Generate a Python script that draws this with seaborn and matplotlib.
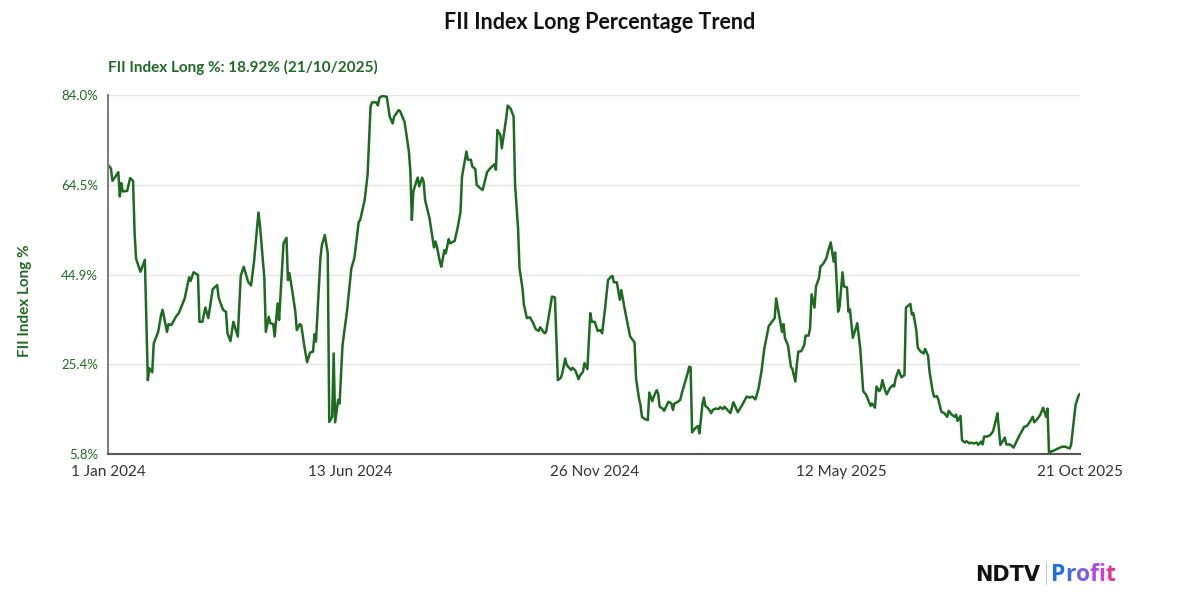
import pandas as pd
import matplotlib
matplotlib.use("Agg")
import matplotlib.pyplot as plt
import seaborn as sns

START = "2024-01-01"

# trading-day offsets from 1 Jan 2024
day_offsets = [
    0, 2, 3, 5, 7, 8, 9, 10, 13, 15,
    17, 18, 19, 22, 25, 27, 28, 30, 31, 34,
    36, 37, 40, 41, 43, 46, 48, 52, 55, 56,
    58, 61, 62, 64, 66, 68, 70, 71, 74, 75,
    78, 80, 81, 83, 85, 88, 90, 92, 95, 97,
    99, 102, 103, 106, 107, 109, 110, 112, 113, 115,
    116, 119, 121, 122, 123, 125, 127, 128, 130, 131,
    133, 135, 137, 139, 140, 141, 144, 145, 147, 149,
    150, 152, 153, 154, 156, 157, 159, 161, 162, 165,
    167, 170, 171, 174, 176, 178, 179, 182, 183, 184,
    186, 189, 190, 191, 193, 194, 197, 198, 201, 202,
    204, 205, 206, 207, 209, 210, 211, 213, 214, 215,
    218, 219, 221, 222, 223, 225, 226, 228, 229, 231,
    232, 235, 237, 239, 240, 243, 244, 246, 247, 249,
    250, 252, 254, 257, 259, 262, 263, 264, 266, 267,
    270, 271, 273, 275, 276, 278, 279, 281, 282, 284,
    286, 288, 290, 292, 293, 296, 297, 299, 301, 303,
    305, 307, 308, 310, 311, 314, 315, 317, 319, 320,
    322, 323, 325, 327, 328, 330, 332, 334, 335, 337,
    339, 341, 342, 343, 345, 347, 348, 350, 352, 354,
    357, 358, 360, 361, 362, 364, 366, 367, 369, 370,
    372, 373, 374, 376, 377, 379, 380, 382, 383, 384,
    386, 388, 389, 391, 393, 394, 395, 396, 398, 400,
    401, 403, 404, 405, 407, 409, 410, 412, 414, 415,
    417, 418, 420, 422, 424, 427, 430, 433, 435, 437,
    439, 441, 443, 445, 448, 449, 452, 453, 455, 457,
    458, 459, 461, 463, 464, 466, 467, 468, 470, 472,
    473, 475, 476, 477, 479, 480, 482, 483, 485, 487,
    488, 490, 492, 493, 495, 496, 498, 499, 501, 502,
    503, 505, 508, 510, 512, 514, 517, 518, 520, 521,
    523, 524, 525, 527, 528, 530, 532, 533, 534, 536,
    538, 540, 541, 544, 545, 546, 548, 549, 551, 553,
    554, 556, 557, 559, 560, 562, 563, 565, 567, 569,
    570, 572, 574, 575, 576, 578, 579, 581, 582, 584,
    585, 587, 589, 590, 592, 593, 594, 596, 598, 600,
    602, 603, 605, 606, 608, 609, 611, 612, 614, 615,
    618, 620, 621, 623, 625, 627, 628, 630, 632, 634,
    636, 637, 638, 639, 641, 644, 647, 649, 652, 653,
    655, 656, 658, 659,
]

long_pct = [
    68.8, 68.0, 65.3, 66.2, 67.2, 61.9, 64.8, 63.0, 63.1, 65.9,
    65.3, 54.2, 48.4, 45.5, 48.1, 21.9, 24.5, 23.6, 29.9, 32.4,
    36.1, 37.2, 32.4, 34.1, 33.9, 35.7, 36.5, 39.7, 44.3, 43.5,
    45.4, 44.8, 34.6, 34.6, 37.7, 35.4, 39.7, 41.7, 42.6, 39.9,
    37.2, 36.8, 32.1, 30.4, 34.6, 31.4, 44.6, 46.6, 43.3, 42.5,
    47.7, 58.4, 55.7, 44.1, 32.4, 35.7, 34.3, 34.1, 31.4, 38.6,
    35.0, 51.7, 52.9, 43.7, 45.2, 41.2, 36.8, 32.8, 34.1, 33.9,
    29.5, 25.8, 27.9, 28.1, 31.9, 30.3, 48.4, 51.3, 53.5, 49.5,
    12.8, 13.9, 27.7, 12.7, 17.6, 16.8, 29.5, 34.3, 36.8, 46.3,
    48.4, 56.4, 56.8, 61.1, 66.6, 81.5, 82.4, 82.4, 81.7, 83.4,
    83.8, 83.6, 81.5, 79.3, 77.8, 79.3, 80.7, 80.5, 78.2, 76.1,
    71.7, 67.3, 56.8, 63.0, 65.1, 66.0, 64.1, 66.0, 65.1, 61.1,
    57.1, 55.0, 50.8, 52.1, 51.0, 47.7, 46.6, 50.2, 49.5, 52.6,
    51.7, 52.2, 55.0, 58.6, 66.2, 71.7, 69.9, 69.9, 68.4, 67.9,
    64.4, 63.8, 63.3, 67.2, 68.0, 68.9, 67.7, 76.4, 75.3, 72.4,
    79.0, 81.7, 81.0, 79.3, 64.4, 55.0, 46.3, 41.9, 38.3, 35.4,
    35.6, 34.5, 33.0, 32.6, 33.4, 32.1, 32.4, 36.1, 40.1, 39.9,
    21.9, 22.4, 23.4, 26.6, 25.2, 24.1, 24.6, 23.9, 22.1, 22.9,
    23.7, 25.6, 24.3, 36.5, 34.6, 34.6, 32.6, 32.8, 32.1, 37.5,
    43.7, 44.4, 44.6, 43.2, 43.2, 39.4, 41.5, 37.9, 34.6, 31.4,
    30.1, 22.3, 17.9, 16.5, 13.9, 13.4, 13.2, 19.2, 17.3, 18.3,
    19.7, 19.0, 16.1, 15.7, 15.2, 16.5, 17.2, 16.8, 15.4, 16.8,
    17.1, 17.6, 19.0, 21.2, 23.4, 24.8, 24.7, 10.5, 11.4, 11.9,
    10.3, 16.6, 18.1, 16.3, 15.7, 14.7, 15.4, 15.7, 15.6, 16.0,
    15.6, 16.1, 15.4, 14.7, 17.1, 14.9, 16.5, 18.3, 18.1, 18.3,
    17.7, 20.0, 23.7, 28.8, 33.7, 34.1, 35.4, 39.7, 36.1, 32.4,
    34.1, 31.0, 29.5, 24.8, 24.3, 21.6, 25.2, 28.1, 28.2, 29.5,
    31.6, 31.6, 33.2, 40.6, 37.7, 42.3, 44.1, 46.6, 47.3, 48.4,
    49.7, 51.9, 47.7, 49.7, 36.8, 37.9, 45.4, 42.3, 42.1, 36.8,
    37.3, 31.1, 34.3, 28.8, 19.5, 18.7, 16.3, 16.8, 15.9, 20.5,
    19.5, 20.1, 21.9, 19.5, 18.8, 20.1, 20.8, 20.5, 22.3, 24.1,
    22.5, 23.0, 37.7, 38.5, 36.2, 36.5, 32.8, 29.0, 28.1, 27.7,
    28.7, 27.2, 23.7, 19.7, 18.3, 18.4, 17.6, 15.0, 14.7, 13.9,
    15.2, 14.4, 13.9, 14.4, 13.0, 14.1, 8.8, 8.3, 8.6, 8.1,
    8.3, 8.1, 8.3, 7.8, 8.5, 7.9, 9.6, 9.6, 9.9, 10.7,
    13.2, 14.7, 7.8, 8.3, 9.4, 7.9, 7.9, 7.8, 7.2, 7.9,
    9.9, 11.0, 11.7, 11.9, 12.8, 13.9, 12.7, 13.4, 14.3, 15.9,
    13.9, 15.7, 5.8, 6.3, 6.5, 7.0, 7.4, 7.4, 7.0, 7.9,
    13.6, 16.5, 18.5, 18.92,
]

y_ticks = [5.8, 25.4, 44.9, 64.5, 84.0]
x_tick_dates = ["2024-01-01", "2024-06-13", "2024-11-26", "2025-05-12", "2025-10-21"]
x_tick_labels = ["1 Jan 2024", "13 Jun 2024", "26 Nov 2024", "12 May 2025", "21 Oct 2025"]

assert len(day_offsets) == len(long_pct)

LINE = "#1d6b21"
GREEN_TXT = "#1f6a24"

df = pd.DataFrame({
    "date": pd.to_datetime(START) + pd.to_timedelta(day_offsets, unit="D"),
    "long": long_pct,
})

sns.set_style("white")
plt.rcParams["font.family"] = ["Lato", "DejaVu Sans"]

fig = plt.figure(figsize=(12, 6.04), dpi=100)
ax = fig.add_axes([0.09, 0.2483, 0.81, 0.5944])

sns.lineplot(data=df, x="date", y="long", ax=ax, color=LINE, linewidth=1.8)

ax.set_xlim(df["date"].min(), df["date"].max())
ax.set_ylim(5.8, 84.0)
ax.set_yticks(y_ticks)
ax.set_yticklabels([f"{t:.1f}%" for t in y_ticks])
ax.set_xticks(pd.to_datetime(x_tick_dates))
ax.set_xticklabels(x_tick_labels)
ax.set_xlabel("")
ax.set_ylabel("")
# y label sits a bit below the axis centre in the original
fig.text(25 / 1200, 0.503, "FII Index Long %", rotation=90, ha="center", va="center",
         color=GREEN_TXT, fontsize=11, fontweight="bold")

ax.grid(axis="y", color="#e5e5e5", linewidth=1)
ax.set_axisbelow(True)
for s in ["top", "right"]:
    ax.spines[s].set_visible(False)
ax.spines["left"].set_color("#808080")
ax.spines["left"].set_linewidth(1.5)
ax.spines["bottom"].set_color("#555555")
ax.spines["bottom"].set_linewidth(1.5)

ax.tick_params(axis="y", length=4, width=1, color="#808080", labelcolor=GREEN_TXT, labelsize=9.5, pad=3)
ax.tick_params(axis="x", length=0, labelcolor="#333333", labelsize=11, pad=8)

fig.text(0.5, 0.963, "FII Index Long Percentage Trend", ha="center", va="center",
         fontsize=15.5, fontweight="bold", color="#111111")
fig.text(0.09, 0.889, "FII Index Long %: 18.92% (21/10/2025)", ha="left", va="center",
         fontsize=11, fontweight="bold", color=GREEN_TXT)

# NDTV | Profit logo
fig.text(0.8125, 0.048, "NDTV", ha="left", va="center", fontsize=15, fontweight="heavy",
         color="#111111", family=["DejaVu Sans"])
fig.text(1043 / 1200, 0.05, "|", ha="left", va="center", fontsize=17, color="#444444",
         fontweight="light")
renderer = fig.canvas.get_renderer()
profit_colors = ["#1f6fe0", "#3f6be6", "#7a5ee6", "#a84fe0", "#cf3fce", "#e3369a"]
x_px = 1051
for ch, c in zip("Profit", profit_colors):
    t = fig.text(x_px / 1200, 0.048, ch, ha="left", va="center", fontsize=16.5,
                 fontweight="bold", color=c, family=["Open Sans", "DejaVu Sans"])
    x_px += t.get_window_extent(renderer).width

fig.savefig("out.png", dpi=100)
